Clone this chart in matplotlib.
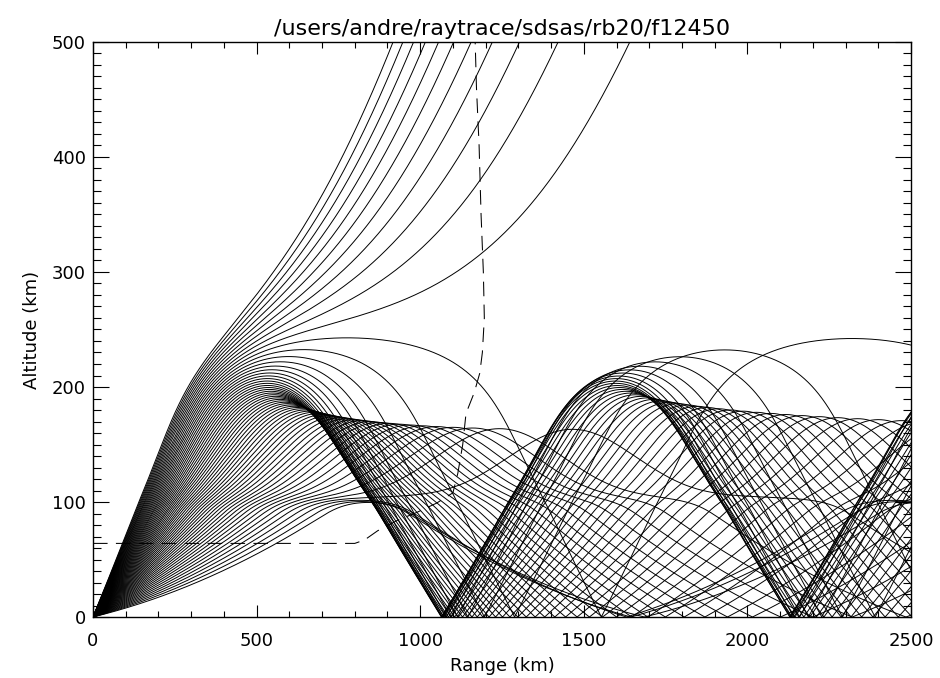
import numpy as np
import matplotlib
matplotlib.use("Agg")
import matplotlib.pyplot as plt
from matplotlib.ticker import MultipleLocator

# ---- chart text
title = "/users/andre/raytrace/sdsas/rb20/f12450"
xlabel = "Range (km)"
ylabel = "Altitude (km)"

# ---- ray launch settings
freq_mhz = 12.45
elevations_deg = [4.0, 4.5, 5.0, 5.5, 6.0, 6.5, 7.0, 7.5, 8.0, 8.5, 9.0, 9.5,
                  10.0, 10.5, 11.0, 11.5, 12.0, 12.5, 13.0, 13.5, 14.0, 14.5,
                  15.0, 15.5, 16.0, 16.5, 17.0, 17.5, 18.0, 18.5, 19.0, 19.5,
                  20.0, 20.5, 21.0, 21.5, 22.0, 22.5, 23.0, 23.5, 24.0, 24.5,
                  25.0, 25.5, 26.0, 26.5, 27.0, 27.5, 28.0, 28.5, 29.0, 29.5,
                  30.0, 30.5, 31.0, 31.5, 32.0, 32.5, 33.0, 33.5, 34.0, 34.5,
                  35.0]

# ---- ionosphere layers (E, F1, F2)
layer_peak_km = [105.0, 225.0, 340.0]
layer_fo_mhz = [2.5, 5.27, 5.7]
layer_scale_km = [8.0, 35.0, 85.0]

# ---- dashed contour (range km, altitude km)
dash_range = [0, 200, 400, 600, 800, 830, 870, 930, 990, 1050, 1100, 1115,
              1130, 1140, 1165, 1182, 1190, 1196, 1193, 1186, 1180, 1172, 1168]
dash_alt = [64, 64, 64, 64, 64, 67, 75, 84, 91, 99, 108, 125,
            150, 177, 195, 212, 230, 260, 300, 350, 410, 460, 500]

R_EARTH = 6370.0


def plasma_x(z):
    out = np.zeros_like(z)
    for hm, fo, hs in zip(layer_peak_km, layer_fo_mhz, layer_scale_km):
        u = np.clip((z - hm) / hs, -30, 30)
        out += (fo / freq_mhz) ** 2 * np.exp(0.5 * (1 - u - np.exp(-u)))
    return out


def mod_n2(z):
    return (1 - plasma_x(z)) * (1 + z / R_EARTH) ** 2


def half_grad(z):
    d = 0.05
    return 0.5 * (mod_n2(z + d) - mod_n2(z - d)) / (2 * d)


def trace(elev_deg, ds=1.0, nsteps=4200):
    e = np.radians(np.asarray(elev_deg))
    kx = np.cos(e)
    kz = np.sin(e)
    x = np.zeros_like(e)
    z = np.zeros_like(e)
    xs = [x.copy()]
    zs = [z.copy()]
    for _ in range(nsteps):
        kz = kz + 0.5 * ds * half_grad(z)
        x = x + ds * kx
        z = z + ds * kz
        kz = kz + 0.5 * ds * half_grad(z)
        hit = (z < 0) & (kz < 0)
        z = np.where(hit, -z, z)
        kz = np.where(hit, -kz, kz)
        xs.append(x.copy())
        zs.append(z.copy())
    return np.array(xs), np.array(zs)


xs, zs = trace(elevations_deg)

fig = plt.figure(figsize=(9.4, 6.78), dpi=100)
ax = fig.add_axes([93 / 940, 1 - 617 / 678, 818 / 940, 575 / 678])

for i in range(len(elevations_deg)):
    xr, zr = xs[:, i], zs[:, i]
    keep = (xr <= 2520) & (zr <= 520)
    stop = np.argmin(keep) if not keep.all() else len(xr)
    ax.plot(xr[:stop + 1], zr[:stop + 1], color="black", lw=0.7)

ax.plot(dash_range, dash_alt, color="black", lw=0.75, ls=(0, (14, 8)))

ax.set_xlim(0, 2500)
ax.set_ylim(0, 500)
ax.xaxis.set_major_locator(MultipleLocator(500))
ax.xaxis.set_minor_locator(MultipleLocator(100))
ax.yaxis.set_major_locator(MultipleLocator(100))
ax.yaxis.set_minor_locator(MultipleLocator(10))
ax.tick_params(which="both", direction="in", top=True, right=True,
               labelsize=13, width=0.8, color="black")
ax.tick_params(axis="x", which="major", length=8.3, pad=11)
ax.tick_params(axis="x", which="minor", length=4.1)
ax.tick_params(axis="y", which="major", length=11.8, pad=5)
ax.tick_params(axis="y", which="minor", length=5.9)
for sp in ax.spines.values():
    sp.set_linewidth(1.0)

fig.canvas.draw()
ylabs = ax.get_yticklabels()
ylabs[0].set_verticalalignment("bottom")
ylabs[-1].set_verticalalignment("top")

ax.set_title(title, fontsize=16, pad=5)
ax.set_xlabel(xlabel, fontsize=13, labelpad=5)
ax.set_ylabel(ylabel, fontsize=13, labelpad=8)

fig.savefig("out.png", dpi=100)
